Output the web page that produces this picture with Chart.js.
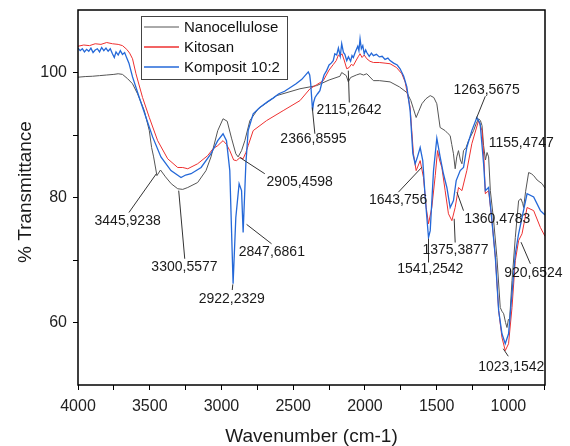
<!DOCTYPE html>
<html>
<head>
<meta charset="utf-8">
<script src="https://cdn.jsdelivr.net/npm/chart.js@4.4.0/dist/chart.umd.min.js"></script>
<style>
html, body { margin: 0; padding: 0; background: #fff; }
</style>
</head>
<body>
<canvas id="myChart" width="570" height="446"></canvas>
<script>
// ---- data (wavenumber cm-1 / % transmittance) ----
var nanoWave = [4000, 3950, 3900, 3850, 3800, 3750, 3720, 3690, 3654, 3620, 3585, 3538, 3503, 3487, 3473, 3450, 3425, 3390, 3350, 3305, 3270, 3235, 3166, 3108, 3073, 3026, 2989, 2960, 2930, 2900, 2884, 2860, 2837, 2802, 2744, 2616, 2453, 2337, 2250, 2174, 2162, 2130, 2116, 2100, 2060, 2034, 2010, 1987, 1941, 1900, 1825, 1760, 1708, 1680, 1662, 1643, 1625, 1603, 1575, 1545, 1520, 1499, 1476, 1441, 1420, 1406, 1395, 1383, 1371, 1360, 1348, 1335, 1324, 1313, 1295, 1278, 1243, 1225, 1208, 1195, 1184, 1173, 1160, 1149, 1138, 1126, 1103, 1080, 1057, 1045, 1033, 1020, 1010, 1000, 992, 975, 952, 929, 912, 900, 894, 880, 859, 840, 824, 800, 765, 745]
var nanoT = [99.25, 99.35, 99.4, 99.5, 99.6, 99.7, 99.8, 99.7, 99.0, 98.2, 96.6, 93.9, 90.7, 88.0, 86.5, 83.5, 84.4, 83.3, 82.2, 81.4, 81.3, 81.6, 82.4, 84.3, 86.5, 90.7, 92.6, 92.2, 89.5, 87.0, 86.5, 87.5, 89.1, 92.3, 94.2, 96.3, 97.4, 97.9, 98.8, 99.4, 100.0, 99.5, 98.5, 99.2, 99.6, 99.8, 99.6, 99.8, 98.7, 98.7, 98.5, 97.7, 96.8, 95.5, 94.2, 92.8, 93.8, 95.0, 95.8, 96.3, 96.0, 95.0, 91.2, 90.7, 90.2, 89.9, 88.5, 87.0, 84.6, 86.5, 87.5, 86.0, 85.4, 87.5, 88.0, 89.1, 90.7, 91.8, 92.6, 92.3, 91.5, 88.3, 86.0, 87.2, 86.5, 81.1, 76.3, 70.4, 62.4, 61.8, 61.4, 60.0, 59.2, 60.5, 60.3, 66.7, 73.6, 79.5, 79.8, 79.0, 78.4, 81.0, 84.0, 83.8, 83.5, 82.8, 82.2, 81.5]

var kitosanWave = [4000, 3960, 3920, 3880, 3840, 3800, 3760, 3720, 3690, 3660, 3640, 3620, 3596, 3550, 3503, 3445, 3375, 3305, 3270, 3235, 3166, 3096, 3059, 3026, 2989, 2965, 2942, 2915, 2895, 2870, 2849, 2830, 2814, 2779, 2686, 2570, 2453, 2383, 2340, 2290, 2250, 2220, 2200, 2185, 2174, 2160, 2145, 2127, 2110, 2095, 2081, 2060, 2045, 2034, 2020, 2005, 1987, 1965, 1941, 1900, 1860, 1825, 1780, 1743, 1720, 1708, 1685, 1662, 1643, 1615, 1592, 1573, 1557, 1534, 1510, 1494, 1480, 1464, 1441, 1418, 1394, 1371, 1348, 1324, 1290, 1255, 1208, 1184, 1170, 1161, 1138, 1115, 1091, 1068, 1045, 1022, 999, 975, 952, 929, 905, 870, 824, 777, 745]
var kitosanT = [104.2, 104.4, 104.3, 104.6, 104.5, 104.8, 104.6, 104.5, 104.3, 103.7, 103.1, 102.2, 99.8, 96.0, 92.8, 89.1, 86.2, 84.8, 84.8, 84.6, 85.4, 86.7, 87.8, 88.3, 89.1, 88.5, 87.5, 86.0, 85.9, 86.4, 86.2, 87.2, 88.3, 90.7, 92.3, 93.9, 95.5, 97.4, 98.0, 98.7, 100.4, 101.3, 101.9, 102.8, 102.6, 103.0, 102.0, 100.6, 100.8, 101.3, 101.1, 102.0, 102.6, 103.0, 102.4, 102.8, 102.2, 101.8, 101.6, 101.6, 101.5, 101.4, 100.8, 99.8, 98.5, 97.1, 94.4, 87.0, 84.3, 85.9, 83.2, 78.4, 75.8, 78.4, 83.5, 87.5, 86.0, 84.8, 81.1, 77.4, 76.3, 78.4, 81.6, 81.1, 84.3, 88.6, 92.3, 90.7, 86.0, 80.6, 81.1, 76.3, 70.4, 61.9, 57.6, 55.5, 56.6, 62.4, 69.9, 73.1, 74.2, 78.4, 77.9, 75.2, 73.8]

var kompWave = [4000, 3985, 3970, 3955, 3940, 3925, 3910, 3895, 3880, 3865, 3850, 3835, 3820, 3805, 3790, 3775, 3760, 3747, 3735, 3720, 3705, 3690, 3675, 3660, 3645, 3620, 3573, 3526, 3480, 3422, 3352, 3282, 3250, 3212, 3142, 3073, 3026, 2989, 2965, 2942, 2919, 2900, 2877, 2860, 2849, 2830, 2814, 2779, 2733, 2680, 2640, 2600, 2560, 2520, 2480, 2440, 2395, 2385, 2378, 2370, 2365, 2358, 2348, 2330, 2314, 2300, 2285, 2267, 2250, 2235, 2221, 2210, 2197, 2185, 2172, 2162, 2150, 2140, 2127, 2115, 2100, 2090, 2081, 2065, 2050, 2042, 2034, 2025, 2015, 2005, 1995, 1987, 1970, 1955, 1941, 1920, 1900, 1880, 1860, 1840, 1825, 1800, 1775, 1755, 1730, 1708, 1685, 1666, 1650, 1634, 1615, 1597, 1580, 1557, 1545, 1522, 1499, 1476, 1453, 1429, 1406, 1383, 1364, 1336, 1313, 1290, 1255, 1220, 1197, 1173, 1161, 1138, 1115, 1091, 1068, 1045, 1022, 999, 975, 952, 929, 905, 870, 824, 777, 745]
var kompT = [103.9, 103.5, 103.8, 103.3, 103.7, 103.4, 103.9, 103.2, 103.6, 103.8, 103.3, 104.0, 103.5, 103.9, 103.4, 103.8, 103.0, 102.4, 103.3, 102.8, 103.5, 102.9, 103.2, 102.3, 101.5, 99.3, 96.0, 92.8, 89.7, 86.5, 84.3, 83.2, 83.6, 83.8, 84.8, 87.0, 89.1, 90.2, 89.1, 84.3, 66.2, 76.8, 82.2, 81.1, 74.4, 85.4, 90.7, 93.4, 94.4, 95.3, 95.9, 96.6, 97.0, 97.6, 98.2, 98.9, 100.1, 99.6, 98.2, 95.5, 93.9, 95.2, 96.0, 96.6, 97.1, 98.4, 99.6, 100.3, 101.2, 101.5, 101.9, 103.0, 102.8, 103.9, 102.6, 104.6, 103.2, 102.9, 101.9, 102.5, 101.8, 102.7, 102.4, 103.4, 104.2, 103.5, 105.4, 103.8, 104.3, 103.0, 103.6, 103.2, 102.6, 103.1, 102.7, 102.9, 102.5, 102.6, 102.1, 102.3, 101.9, 101.5, 101.2, 100.6, 99.4, 97.7, 93.9, 87.0, 85.4, 86.5, 88.0, 85.9, 80.0, 73.6, 74.7, 84.3, 89.5, 86.5, 83.8, 81.6, 78.4, 79.5, 82.7, 84.3, 84.8, 88.0, 90.7, 92.8, 91.8, 85.4, 81.1, 81.6, 76.3, 70.4, 61.9, 58.2, 56.6, 58.2, 64.6, 71.0, 74.2, 76.8, 80.6, 80.1, 77.9, 77.2]

var seriesNames = ['Nanocellulose', 'Kitosan', 'Komposit 10:2']
var seriesColors = ['#555555', '#ee3030', '#2468d8']

var xTicks = [4000, 3750, 3500, 3250, 3000, 2750, 2500, 2250, 2000, 1750, 1500, 1250, 1000, 750]
var yTicks = [60, 70, 80, 90, 100]

// peak labels: text, text position (wavenumber, %T), leader line from -> to
var peakLabels = [
    ['3445,9238', 3654, 76.2, [3645, 77.6, 3454, 83.8]],
    ['3300,5577', 3258, 68.85, [3256, 70.2, 3298, 81.1]],
    ['2922,2329', 2928, 63.8, [2925, 65.2, 2921, 66.1]],
    ['2847,6861', 2649, 71.2, [2651, 72.6, 2825, 75.7]],
    ['2905,4598', 2455, 82.45, [2698, 83.8, 2872, 86.4]],
    ['2366,8595', 2359, 89.4, [2349, 90.2, 2367, 94.4]],
    ['2115,2642', 2111, 93.9, [2109, 95.2, 2116, 100.3]],
    ['1643,756', 1769, 79.5, [1767, 80.85, 1603, 84.85]],
    ['1541,2542', 1545, 68.5, [1557, 69.6, 1557, 73.4]],
    ['1375,3877', 1369, 71.6, [1371, 72.8, 1378, 76.6]],
    ['1360,4783', 1078, 76.6, [1313, 77.9, 1359, 80.85]],
    ['1263,5675', 1152, 97.2, [1161, 96.2, 1224, 92.6]],
    ['1155,4747', 910, 88.7, null],
    ['920,6524', 826, 67.9, [847, 69.4, 912, 72.85]],
    ['1023,1542', 980, 52.85, [1001, 54.6, 1036, 55.8]]
]

var FONT = 'Liberation Sans, Arial, sans-serif'

function pts(ws, ts) {
    return ws.map(function (w, i) { return { x: w, y: ts[i] } })
}

// frame, legend, axis titles and peak labels
var decorPlugin = {
    id: 'decor',
    afterDraw: function (chart) {
        var c = chart.ctx
        var a = chart.chartArea
        var xs = chart.scales.x
        var ys = chart.scales.y
        c.save()

        // peak labels
        c.font = '14px ' + FONT
        c.fillStyle = '#1a1a1a'
        c.strokeStyle = '#333'
        c.lineWidth = 1
        c.textAlign = 'center'
        c.textBaseline = 'middle'
        peakLabels.forEach(function (p) {
            if (p[3]) {
                c.beginPath()
                c.moveTo(xs.getPixelForValue(p[3][0]), ys.getPixelForValue(p[3][1]))
                c.lineTo(xs.getPixelForValue(p[3][2]), ys.getPixelForValue(p[3][3]))
                c.stroke()
            }
            c.fillText(p[0], xs.getPixelForValue(p[1]), ys.getPixelForValue(p[2]))
        })

        // frame
        c.strokeStyle = '#000'
        c.lineWidth = 1.5
        c.strokeRect(a.left, a.top, a.right - a.left, a.bottom - a.top)

        // legend
        var lx = a.left + 63, ly = a.top + 6
        c.fillStyle = '#fff'
        c.fillRect(lx, ly, 146, 63)
        c.strokeStyle = '#444'
        c.lineWidth = 1
        c.strokeRect(lx + 0.5, ly + 0.5, 146, 63)
        c.font = '15px ' + FONT
        c.textAlign = 'left'
        seriesNames.forEach(function (name, i) {
            var yy = ly + 11 + i * 20
            c.strokeStyle = seriesColors[i]
            c.lineWidth = i === 0 ? 1 : 1.4
            c.beginPath()
            c.moveTo(lx + 3, yy)
            c.lineTo(lx + 38, yy)
            c.stroke()
            c.fillStyle = '#111'
            c.fillText(name, lx + 43, yy + 1)
        })

        // axis titles
        c.fillStyle = '#1a1a1a'
        c.font = '19px ' + FONT
        c.textAlign = 'center'
        c.fillText('Wavenumber (cm-1)', (a.left + a.right) / 2, 437)
        c.translate(26, 192)
        c.rotate(-Math.PI / 2)
        c.fillText('% Transmittance', 0, 0)
        c.restore()
    }
}

var ctx = document.getElementById('myChart')

var chart = new Chart(ctx, {
    type: 'line',
    data: {
        datasets: [
            { label: seriesNames[0], data: pts(nanoWave, nanoT), borderColor: seriesColors[0], borderWidth: 1, order: 3 },
            { label: seriesNames[1], data: pts(kitosanWave, kitosanT), borderColor: seriesColors[1], borderWidth: 1, order: 2 },
            { label: seriesNames[2], data: pts(kompWave, kompT), borderColor: seriesColors[2], borderWidth: 1.3, order: 1 }
        ]
    },
    options: {
        responsive: false,
        animation: false,
        devicePixelRatio: 1,
        layout: { padding: { top: 10, right: 25, left: 0, bottom: 0 } },
        elements: { point: { radius: 0 }, line: { tension: 0, fill: false } },
        plugins: { legend: { display: false }, tooltip: { enabled: false } },
        scales: {
            x: {
                type: 'linear',
                reverse: true,
                min: 745,
                max: 4000,
                afterFit: function (s) { s.height = 61; s.paddingLeft = 0; s.paddingRight = 0 },
                afterBuildTicks: function (s) { s.ticks = xTicks.map(function (v) { return { value: v } }) },
                ticks: {
                    autoSkip: false,
                    maxRotation: 0,
                    padding: 7,
                    color: '#222',
                    font: { family: FONT, size: 16 },
                    callback: function (v) { return v % 500 === 0 ? String(v) : '' }
                },
                grid: { drawOnChartArea: false, tickLength: 5, tickColor: '#000' },
                border: { display: false }
            },
            y: {
                type: 'linear',
                min: 50,
                max: 110,
                afterFit: function (s) { s.width = 78; s.paddingTop = 0; s.paddingBottom = 0 },
                afterBuildTicks: function (s) { s.ticks = yTicks.map(function (v) { return { value: v } }) },
                ticks: {
                    autoSkip: false,
                    padding: 6,
                    color: '#222',
                    font: { family: FONT, size: 16 },
                    callback: function (v) { return v % 20 === 0 ? String(v) : '' }
                },
                grid: { drawOnChartArea: false, tickLength: 5, tickColor: '#000' },
                border: { display: false }
            }
        }
    },
    plugins: [decorPlugin]
})
</script>
</body>
</html>
